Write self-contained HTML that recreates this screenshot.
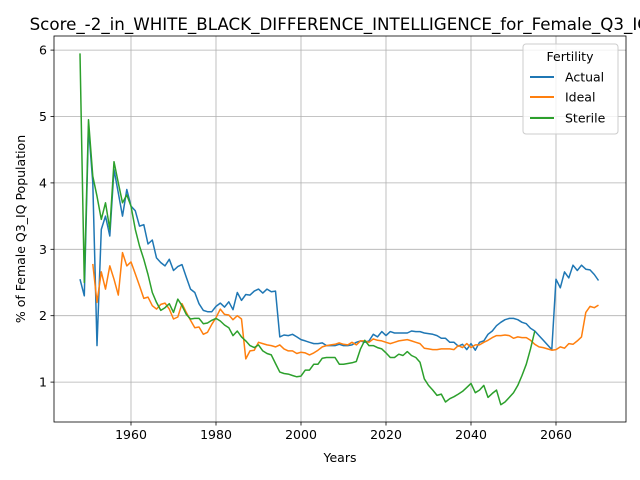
<!DOCTYPE html>
<html><head><meta charset="utf-8"><style>body{margin:0;background:#fff}svg{display:block;font-family:"DejaVu Sans","Liberation Sans",sans-serif}</style></head>
<body>
<svg id="chart" width="640" height="480" xmlns="http://www.w3.org/2000/svg">
<rect width="640" height="480" fill="#fff"/>
<text x="340" y="30" font-size="16.7" text-anchor="middle" fill="#000">Score_-2_in_WHITE_BLACK_DIFFERENCE_INTELLIGENCE_for_Female_Q3_IQ</text>
<g id="grid"></g><g id="series"></g><g id="axes"></g>
<text x="340" y="462" font-size="12.5" text-anchor="middle">Years</text>
<text transform="translate(25,229) rotate(-90)" font-size="12.5" text-anchor="middle">% of Female Q3_IQ Population</text>
<g>
<rect x="523" y="44" width="95" height="90" rx="3" fill="#fff" fill-opacity="0.8" stroke="#ccc"/>
<text x="570" y="61" font-size="12.5" text-anchor="middle">Fertility</text>
<line x1="530" y1="77" x2="554" y2="77" stroke="#1f77b4" stroke-width="2"/><text x="565" y="81.5" font-size="12.5">Actual</text>
<line x1="530" y1="97" x2="554" y2="97" stroke="#ff7f0e" stroke-width="2"/><text x="565" y="101.5" font-size="12.5">Ideal</text>
<line x1="530" y1="118" x2="554" y2="118" stroke="#2ca02c" stroke-width="2"/><text x="565" y="122.5" font-size="12.5">Sterile</text>
</g>
</svg>
<script>
const xTicks=[1960,1980,2000,2020,2040,2060];
const yTicks=[1,2,3,4,5,6];
const actualStart=1948;
const actual=[2.55,2.3,4.85,4.0,1.55,3.3,3.5,3.2,4.2,3.85,3.5,3.9,3.65,3.58,3.35,3.37,3.08,3.14,2.87,2.8,2.75,2.85,2.68,2.74,2.77,2.58,2.4,2.35,2.18,2.08,2.06,2.06,2.14,2.19,2.13,2.21,2.09,2.35,2.23,2.32,2.31,2.37,2.4,2.34,2.4,2.36,2.37,1.68,1.71,1.7,1.72,1.68,1.64,1.62,1.6,1.58,1.58,1.59,1.55,1.55,1.55,1.57,1.55,1.55,1.56,1.6,1.62,1.6,1.62,1.72,1.68,1.76,1.7,1.76,1.74,1.74,1.74,1.74,1.77,1.76,1.76,1.74,1.73,1.72,1.7,1.66,1.66,1.6,1.6,1.54,1.57,1.49,1.58,1.48,1.6,1.62,1.72,1.77,1.85,1.9,1.94,1.96,1.96,1.94,1.9,1.88,1.81,1.77,1.7,1.63,1.56,1.49,2.55,2.42,2.66,2.57,2.76,2.68,2.76,2.7,2.69,2.62,2.53];
const idealStart=1951;
const ideal=[2.78,2.2,2.66,2.4,2.75,2.55,2.31,2.95,2.75,2.81,2.63,2.45,2.26,2.28,2.15,2.1,2.17,2.19,2.1,1.95,1.98,2.18,2.05,1.93,1.82,1.83,1.72,1.75,1.87,1.97,2.1,2.02,2.01,1.94,2.0,1.95,1.35,1.47,1.48,1.6,1.58,1.56,1.55,1.53,1.56,1.5,1.47,1.47,1.43,1.45,1.44,1.41,1.44,1.48,1.53,1.55,1.56,1.57,1.59,1.57,1.56,1.6,1.56,1.62,1.62,1.6,1.65,1.63,1.62,1.6,1.58,1.6,1.62,1.63,1.64,1.62,1.6,1.58,1.51,1.5,1.49,1.49,1.5,1.5,1.5,1.49,1.55,1.52,1.58,1.52,1.56,1.56,1.6,1.63,1.67,1.7,1.7,1.71,1.7,1.66,1.68,1.67,1.67,1.63,1.57,1.53,1.52,1.5,1.48,1.49,1.53,1.51,1.58,1.57,1.62,1.68,2.05,2.14,2.12,2.16];
const sterileStart=1948;
const sterile=[5.95,2.5,4.95,4.1,3.8,3.45,3.7,3.3,4.32,4.0,3.7,3.82,3.65,3.3,3.05,2.85,2.62,2.35,2.2,2.08,2.12,2.18,2.05,2.25,2.15,2.02,1.95,1.96,1.96,1.88,1.89,1.93,1.96,1.92,1.86,1.82,1.7,1.77,1.68,1.62,1.55,1.52,1.56,1.47,1.43,1.41,1.28,1.15,1.13,1.12,1.1,1.08,1.09,1.18,1.18,1.27,1.27,1.36,1.37,1.37,1.37,1.27,1.27,1.28,1.29,1.31,1.5,1.63,1.55,1.55,1.52,1.5,1.44,1.37,1.37,1.42,1.4,1.46,1.4,1.37,1.3,1.05,0.95,0.88,0.8,0.82,0.7,0.75,0.78,0.82,0.86,0.92,0.98,0.84,0.88,0.95,0.77,0.83,0.88,0.66,0.7,0.77,0.84,0.95,1.1,1.27,1.5,1.77];
const L=54,R=626,T=36,B=422;
const X=y=>131+(y-1960)*4.25;
const Y=v=>448.5-v*66.4;
const NS="http://www.w3.org/2000/svg";
function mk(tag,attrs,parent){const e=document.createElementNS(NS,tag);for(const k in attrs)e.setAttribute(k,attrs[k]);parent.appendChild(e);return e;}
const grid=document.getElementById('grid'),axes=document.getElementById('axes'),ser=document.getElementById('series');
xTicks.forEach(t=>{
 const g=mk('line',{x1:X(t),x2:X(t),y1:T,y2:B,stroke:'#b0b0b0','stroke-width':0.8},grid);
 
 
 mk('line',{x1:X(t),x2:X(t),y1:B,y2:B+3.5,stroke:'#000','stroke-width':0.8},axes);
 const tx=mk('text',{x:X(t),y:B+17,'font-size':12.5,'text-anchor':'middle'},axes);tx.textContent=t;
 
 
});
yTicks.forEach(t=>{
 const g=mk('line',{x1:L,x2:R,y1:Y(t),y2:Y(t),stroke:'#b0b0b0','stroke-width':0.8},grid);
 
 
 mk('line',{x1:L-3.5,x2:L,y1:Y(t),y2:Y(t),stroke:'#000','stroke-width':0.8},axes);
 const tx=mk('text',{x:L-7,y:Y(t)+4.5,'font-size':12.5,'text-anchor':'end'},axes);tx.textContent=t;
 
 
});
const frame=mk('rect',{x:L,y:T,width:R-L,height:B-T,fill:'none',stroke:'#000','stroke-width':0.8},axes);


function line(arr,start,color,name){
 const d=arr.map((v,i)=>(i?'L':'M')+X(start+i).toFixed(1)+' '+Y(v).toFixed(1)).join(' ');
 const p=mk('path',{d:d,fill:'none',stroke:color,'stroke-width':1.5,'stroke-linejoin':'round'},ser);
 
 
}
line(actual,actualStart,'#1f77b4','actual-line');
line(ideal,idealStart,'#ff7f0e','ideal-line');
line(sterile,sterileStart,'#2ca02c','sterile-line');
</script>
</body></html>
